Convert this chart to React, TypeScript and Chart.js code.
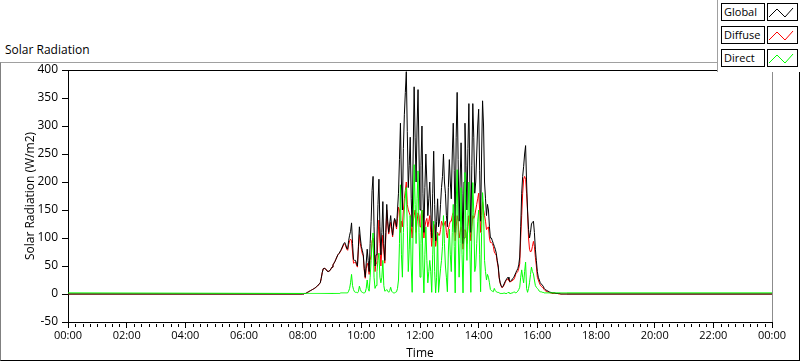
import React, { useEffect, useRef } from "react";
import { Chart, registerables } from "chart.js";

Chart.register(...registerables);

// Sampling: every 2 minutes from 08:00 to 17:00 (values in W/m2)
const sampleStartMinute = 480;
const sampleStepMinutes = 2;

const globalValues = [
  0, 0, 1, 1, 2, 3, 4, 5, 6, 7,
  8, 9, 10, 11, 13, 14, 16, 18, 20, 28,
  38, 45, 46, 45, 44, 41, 40, 41, 42, 45,
  48, 52, 55, 58, 62, 66, 70, 72, 75, 78,
  82, 86, 90, 92, 88, 82, 80, 95, 105, 112,
  127, 90, 62, 60, 60, 55, 50, 85, 120, 100,
  85, 78, 70, 45, 30, 55, 80, 60, 40, 90,
  130, 185, 210, 120, 50, 70, 100, 160, 205, 120,
  70, 110, 165, 90, 60, 110, 160, 130, 110, 125,
  140, 120, 105, 125, 135, 130, 120, 150, 180, 240,
  305, 200, 150, 260, 320, 360, 397, 290, 190, 230,
  280, 170, 120, 250, 370, 280, 200, 300, 365, 250,
  150, 230, 300, 180, 110, 190, 250, 200, 140, 170,
  200, 150, 100, 180, 255, 160, 95, 130, 170, 120,
  130, 160, 190, 210, 250, 200, 180, 140, 120, 190,
  240, 200, 170, 250, 305, 220, 110, 280, 360, 240,
  130, 200, 270, 180, 90, 200, 305, 230, 150, 260,
  340, 200, 110, 230, 340, 280, 180, 200, 250, 300,
  330, 220, 130, 250, 345, 300, 200, 170, 140, 160,
  150, 120, 100, 100, 95, 90, 85, 80, 73, 60,
  50, 30, 20, 15, 12, 14, 18, 22, 25, 28,
  30, 26, 22, 24, 25, 28, 30, 34, 38, 42,
  45, 52, 66, 120, 180, 210, 228, 250, 265, 200,
  150, 115, 100, 110, 125, 128, 130, 110, 80, 60,
  40, 30, 25, 20, 18, 16, 14, 10, 8, 7,
  6, 5, 4, 3, 3, 2, 2, 2, 2, 1,
  1, 1, 1, 1, 0, 0, 0, 0, 0, 0, 0,
];

const diffuseValues = [
  0, 0, 1, 1, 2, 3, 4, 5, 6, 7,
  8, 9, 10, 11, 13, 14, 16, 18, 20, 28,
  38, 45, 46, 45, 44, 41, 40, 41, 42, 45,
  48, 52, 55, 58, 62, 66, 70, 72, 74, 77,
  80, 84, 88, 90, 86, 80, 78, 88, 95, 98,
  95, 75, 55, 56, 57, 52, 48, 80, 106, 90,
  80, 72, 68, 42, 28, 45, 55, 50, 35, 60,
  70, 95, 100, 90, 40, 55, 60, 100, 132, 90,
  50, 80, 105, 75, 55, 100, 150, 125, 107, 118,
  128, 115, 102, 120, 133, 125, 116, 135, 155, 150,
  110, 130, 120, 150, 170, 185, 200, 160, 150, 145,
  140, 120, 100, 130, 140, 150, 110, 130, 145, 140,
  120, 140, 150, 130, 100, 120, 130, 135, 120, 130,
  140, 110, 85, 110, 125, 120, 85, 100, 110, 105,
  105, 115, 130, 125, 120, 125, 130, 110, 100, 115,
  124, 130, 130, 140, 145, 135, 95, 120, 140, 130,
  100, 110, 120, 110, 80, 100, 115, 110, 90, 120,
  140, 120, 95, 120, 140, 135, 140, 150, 160, 170,
  180, 150, 110, 140, 165, 150, 140, 130, 115, 118,
  120, 100, 92, 92, 90, 85, 75, 72, 69, 57,
  47, 28, 19, 14, 11, 13, 16, 20, 24, 26,
  27, 24, 21, 23, 23, 25, 26, 30, 36, 38,
  40, 46, 54, 100, 140, 180, 205, 210, 205, 180,
  147, 100, 80, 75, 77, 85, 94, 85, 65, 50,
  30, 25, 20, 16, 14, 12, 11, 8, 6, 5,
  4, 4, 3, 2, 2, 1, 1, 1, 1, 1,
  1, 1, 0, 0, 0, 0, 0, 0, 0, 0, 0,
];

const directValues = [
  1, 1, 1, 1, 1, 1, 1, 1, 1, 1,
  1, 1, 1, 1, 1, 1, 1, 1, 1, 1,
  1, 1, 1, 1, 1, 1, 1, 1, 1, 1,
  1, 1, 1, 1, 1, 1, 1, 1, 1, 2,
  2, 2, 2, 2, 2, 2, 2, 5, 10, 20,
  35, 15, 8, 4, 3, 3, 2, 4, 14, 8,
  4, 3, 2, 2, 3, 10, 25, 10, 5, 30,
  60, 90, 109, 30, 10, 15, 40, 60, 73, 30,
  20, 30, 60, 15, 5, 6, 8, 5, 3, 6,
  12, 5, 3, 2, 2, 3, 4, 10, 25, 90,
  195, 70, 30, 110, 150, 175, 190, 120, 40, 80,
  140, 50, 3, 120, 231, 160, 90, 170, 220, 110,
  30, 90, 150, 50, 2, 70, 120, 60, 20, 40,
  60, 40, 3, 70, 130, 40, 2, 30, 109, 3,
  25, 45, 60, 85, 140, 90, 50, 30, 4, 75,
  116, 70, 40, 110, 160, 85, 2, 160, 222, 110,
  30, 90, 190, 70, 2, 100, 217, 120, 60, 140,
  200, 80, 3, 110, 199, 145, 40, 50, 90, 130,
  150, 70, 4, 110, 181, 150, 60, 40, 25, 35,
  30, 20, 8, 6, 5, 4, 10, 6, 4, 3,
  3, 2, 1, 1, 1, 1, 2, 1, 1, 1,
  3, 2, 1, 1, 2, 2, 4, 3, 2, 3,
  5, 8, 12, 30, 43, 30, 20, 40, 57, 10,
  3, 10, 20, 35, 48, 40, 36, 25, 15, 12,
  10, 8, 5, 4, 4, 3, 3, 2, 2, 2,
  2, 2, 2, 2, 2, 2, 2, 2, 2, 2,
  2, 2, 2, 2, 2, 2, 2, 2, 2, 2, 2,
];

// Night-time readings (00:00 before sunrise and up to 24:00)
const nightGlobal = 0;
const nightDiffuse = 0;
const nightDirect = 2;

const dayStartMinute = 0;
const dayEndMinute = 1440;
const majorTickMinutes = 120;
const minorTickMinutes = 15;

const yMin = -50;
const yMax = 400;
const yStep = 50;

const seriesNames = ["Global", "Diffuse", "Direct"];
const seriesColors = ["#000000", "#ff0000", "#00ff00"];

function toPoints(values: number[], night: number) {
  const pts = [{ x: dayStartMinute, y: night }];
  values.forEach((v, i) => pts.push({ x: sampleStartMinute + i * sampleStepMinutes, y: v }));
  pts.push({ x: dayEndMinute, y: night });
  return pts;
}

function fmtTime(m: number) {
  const mm = Math.round(m) % 1440;
  const h = Math.floor(mm / 60);
  const mi = mm % 60;
  return String(h).padStart(2, "0") + ":" + String(mi).padStart(2, "0");
}

const FONT = "'Open Sans', 'Noto Sans', sans-serif";

const framePlugin = {
  id: "framePlugin",
  afterDraw(chart: any) {
    const { ctx, chartArea } = chart;
    const xs = chart.scales.x;
    ctx.save();
    ctx.strokeStyle = "#000";
    ctx.lineWidth = 1;
    ctx.beginPath();
    for (let m = dayStartMinute; m <= dayEndMinute; m += minorTickMinutes) {
      if (m % majorTickMinutes === 0) continue;
      const px = Math.round(xs.getPixelForValue(m)) + 0.5;
      ctx.moveTo(px, chartArea.bottom + 2);
      ctx.lineTo(px, chartArea.bottom + 5);
    }
    ctx.stroke();
    ctx.beginPath();
    ctx.moveTo(chartArea.left, Math.round(chartArea.top) + 0.5);
    ctx.lineTo(chartArea.right, Math.round(chartArea.top) + 0.5);
    ctx.stroke();
    ctx.strokeStyle = "#8c8c8c";
    ctx.beginPath();
    ctx.moveTo(Math.round(chartArea.right) + 0.5, chartArea.top);
    ctx.lineTo(Math.round(chartArea.right) + 0.5, chartArea.bottom);
    ctx.stroke();
    ctx.restore();
  },
};

function LegendItem({ name, color, top }: { name: string; color: string; top: number }) {
  return (
    <>
      <div
        style={{
          position: "absolute",
          left: 3,
          top,
          width: 40,
          height: 16,
          border: "1px solid #000",
          font: `11px ${FONT}`,
          lineHeight: "16px",
          paddingLeft: 2,
          color: "#000",
          whiteSpace: "nowrap",
          overflow: "hidden",
        }}
      >
        {name}
      </div>
      <div
        style={{
          position: "absolute",
          left: 49,
          top,
          width: 29,
          height: 16,
          border: "1px solid #000",
        }}
      >
        <svg width="29" height="16" style={{ display: "block" }}>
          <polyline points="1,13 9,5 17,13 25,4" fill="none" stroke={color} strokeWidth="1" />
        </svg>
      </div>
    </>
  );
}

export default function App() {
  const canvasRef = useRef<HTMLCanvasElement | null>(null);

  useEffect(() => {
    if (!canvasRef.current) return;
    const datasets = [
      { label: seriesNames[0], data: toPoints(globalValues, nightGlobal), borderColor: seriesColors[0], order: 1 },
      { label: seriesNames[1], data: toPoints(diffuseValues, nightDiffuse), borderColor: seriesColors[1], order: 2 },
      { label: seriesNames[2], data: toPoints(directValues, nightDirect), borderColor: seriesColors[2], order: 0 },
    ].map((d) => ({ ...d, borderWidth: 1, pointRadius: 0, tension: 0, fill: false }));

    const chart = new Chart(canvasRef.current, {
      type: "line",
      data: { datasets },
      plugins: [framePlugin],
      options: {
        responsive: false,
        animation: false,
        layout: { padding: { left: 0, top: 70, right: 28, bottom: 0 } },
        plugins: {
          legend: { display: false },
          tooltip: { enabled: false },
          title: { display: false },
        },
        scales: {
          x: {
            type: "linear",
            min: dayStartMinute,
            max: dayEndMinute,
            afterFit: (s: any) => {
              s.height = 39;
            },
            afterBuildTicks: (s: any) => {
              const t = [];
              for (let m = dayStartMinute; m <= dayEndMinute; m += majorTickMinutes) t.push({ value: m });
              s.ticks = t;
            },
            ticks: {
              autoSkip: false,
              maxRotation: 0,
              padding: 1,
              color: "#000",
              font: { family: FONT, size: 11 },
              callback: (v: any) => fmtTime(Number(v)),
            },
            grid: { drawOnChartArea: false, drawTicks: true, tickLength: 6, color: "#000" },
            border: { display: true, color: "#000", width: 1 },
            title: {
              display: true,
              text: "Time",
              color: "#000",
              font: { family: FONT, size: 12 },
              padding: { top: 0, bottom: 0 },
            },
          },
          y: {
            type: "linear",
            min: yMin,
            max: yMax,
            afterFit: (s: any) => {
              s.width = 68;
            },
            ticks: { stepSize: yStep, padding: 4, color: "#000", font: { family: FONT, size: 12 } },
            grid: { drawOnChartArea: false, drawTicks: true, tickLength: 6, color: "#000" },
            border: { display: true, color: "#000", width: 1 },
            title: {
              display: true,
              text: "Solar Radiation (W/m2)",
              color: "#000",
              font: { family: FONT, size: 12 },
              padding: { top: 23, bottom: 0 },
            },
          },
        },
      },
    } as any);
    return () => chart.destroy();
  }, []);

  return (
    <div style={{ position: "absolute", left: 0, top: 0, width: 800, height: 361, background: "#fff", overflow: "hidden" }}>
      <div
        style={{
          position: "absolute",
          left: 0,
          top: 62,
          width: 800,
          height: 299,
          boxSizing: "border-box",
          borderTop: "1px solid #a0a0a0",
          borderLeft: "1px solid #808080",
          borderRight: "1px solid #000",
          borderBottom: "1px solid #000",
        }}
      />
      <div
        style={{
          position: "absolute",
          left: 5,
          top: 41,
          font: `12px ${FONT}`,
          lineHeight: "18px",
          color: "#000",
          whiteSpace: "nowrap",
        }}
      >
        Solar Radiation
      </div>
      <canvas
        ref={canvasRef}
        width={800}
        height={361}
        style={{ position: "absolute", left: 0, top: 0, width: 800, height: 361 }}
      />
      <div
        style={{
          position: "absolute",
          left: 717,
          top: 0,
          width: 83,
          height: 72,
          background: "#fff",
          borderLeft: "1px solid #a0a0a0",
          boxSizing: "border-box",
        }}
      >
        {seriesNames.map((n, i) => (
          <LegendItem key={n} name={n} color={seriesColors[i]} top={3 + i * 23} />
        ))}
      </div>
    </div>
  );
}
